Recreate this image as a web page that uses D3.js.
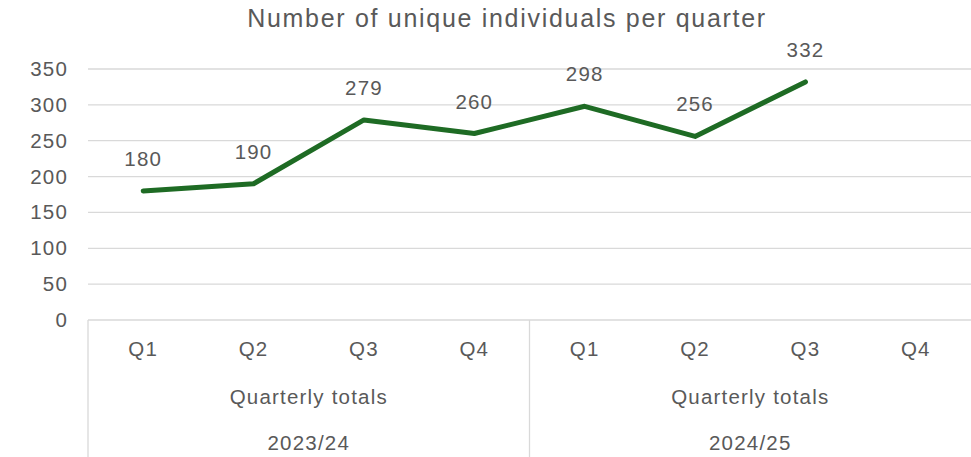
<!DOCTYPE html>
<html>
<head>
<meta charset="utf-8">
<script src="https://cdn.jsdelivr.net/npm/d3@7"></script>
<style>
    body { margin: 0; background: #fff; }
    text { font-family: "Liberation Sans", Arial, sans-serif; fill: #595959; font-size: 20.5px; letter-spacing: 1.2px; }
    .grid line { stroke: #d9d9d9; stroke-width: 1.3; }
</style>
</head>
<body>
<svg id="chart"></svg>
<script>
// chart data
const quarters = ['Q1', 'Q2', 'Q3', 'Q4', 'Q1', 'Q2', 'Q3', 'Q4']
const groups = ['Quarterly totals', 'Quarterly totals']
const years = ['2023/24', '2024/25']
const values = [180, 190, 279, 260, 298, 256, 332, null]
const yTicks = [0, 50, 100, 150, 200, 250, 300, 350]

const width = 971
const height = 457
const plotLeft = 88, plotRight = 971, plotTop = 69, plotBottom = 320

const chart = d3.select('#chart')
    .attr('width', width)
    .attr('height', height)

const keys = quarters.map((q, i) => i)
const xScale = d3.scaleBand().domain(keys).range([plotLeft, plotRight])
const yScale = d3.scaleLinear().domain([0, 350]).range([plotBottom, plotTop])

// title
chart.append('text')
    .attr('x', 507).attr('y', 27)
    .attr('text-anchor', 'middle')
    .style('font-size', '25px')
    .style('letter-spacing', '1.7px')
    .text('Number of unique individuals per quarter')

// horizontal grid
const grid = chart.append('g').attr('class', 'grid')
grid.selectAll('line')
    .data(yTicks)
    .join('line')
    .attr('x1', plotLeft).attr('x2', plotRight)
    .attr('y1', d => yScale(d)).attr('y2', d => yScale(d))

// y axis labels
const yAxis = d3.axisLeft(yScale).tickValues(yTicks).tickSize(0).tickPadding(20)
chart.append('g')
    .attr('transform', `translate(${plotLeft},0)`)
    .call(yAxis)
    .call(g => g.select('.domain').remove())
    .selectAll('text')
    .attr('font-size', null).attr('font-family', null)

// multi-level category axis
const xAxis = d3.axisBottom(xScale).tickSize(0).tickPadding(21).tickFormat(i => quarters[i])
chart.append('g')
    .attr('transform', `translate(0,${plotBottom})`)
    .call(xAxis)
    .call(g => g.select('.domain').remove())
    .selectAll('text')
    .attr('font-size', null).attr('font-family', null)

const bw = xScale.bandwidth()
const groupX = [0, 4].map(i => xScale(i))
chart.append('g').attr('class', 'grid')
    .selectAll('line')
    .data(groupX)
    .join('line')
    .attr('x1', d => d).attr('x2', d => d)
    .attr('y1', plotBottom).attr('y2', height)

groups.forEach((g, i) => {
    const cx = groupX[i] + bw * 2
    chart.append('text')
        .attr('x', cx).attr('y', 404)
        .attr('text-anchor', 'middle')
        .text(g)
    chart.append('text')
        .attr('x', cx).attr('y', 450)
        .attr('text-anchor', 'middle')
        .text(years[i])
})

// data line
const pts = values.map((v, i) => ({ i, v })).filter(d => d.v != null)
const line = d3.line()
    .x(d => xScale(d.i) + bw / 2)
    .y(d => yScale(d.v))

chart.append('path')
    .datum(pts)
    .attr('fill', 'none')
    .attr('stroke', '#1e6b24')
    .attr('stroke-width', 5)
    .attr('stroke-linecap', 'round')
    .attr('stroke-linejoin', 'round')
    .attr('d', line)

// data labels
chart.append('g')
    .selectAll('text')
    .data(pts)
    .join('text')
    .attr('x', d => xScale(d.i) + bw / 2)
    .attr('y', d => yScale(d.v) - 25)
    .attr('text-anchor', 'middle')
    .text(d => d.v)
</script>
</body>
</html>
